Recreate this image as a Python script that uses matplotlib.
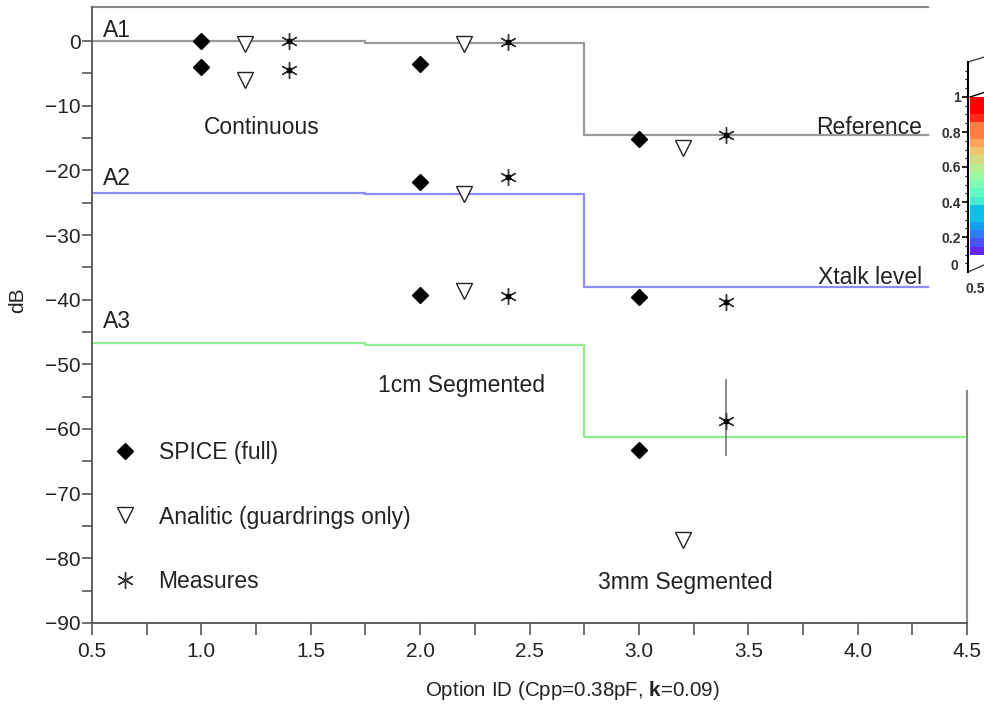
import numpy as np
import matplotlib.pyplot as plt
from matplotlib.colors import ListedColormap

plt.rcParams['font.family'] = ['Liberation Sans', 'DejaVu Sans']
plt.rcParams['mathtext.fontset'] = 'custom'
plt.rcParams['mathtext.rm'] = 'Liberation Sans'
plt.rcParams['mathtext.bf'] = 'Liberation Sans:bold'

# step levels (dB) for the three aggressor configurations
step_edges = [0.5, 1.75, 2.75, 4.32]
a1_levels = [0.0, -0.3, -14.5]
a2_levels = [-23.5, -23.7, -38.0]
a3_levels = [-46.7, -47.0, -61.2]
a3_end = 4.5

spice_x = [1.0, 1.0, 2.0, 2.0, 2.0, 3.0, 3.0, 3.0]
spice_y = [0.0, -4.0, -3.5, -21.8, -39.3, -15.1, -39.6, -63.3]

analitic_x = [1.2, 1.2, 2.2, 2.2, 2.2, 3.2, 3.2]
analitic_y = [-0.4, -6.1, -0.4, -23.6, -38.6, -16.6, -77.2]

meas_x = [1.4, 1.4, 2.4, 2.4, 2.4, 3.4, 3.4, 3.4]
meas_y = [0.0, -4.5, -0.2, -21.1, -39.4, -14.6, -40.3, -58.8]
meas_err_lo = [0, 0, 0, 0, 0, 0, 0, 5.3]
meas_err_hi = [0, 0, 0, 0, 0, 0, 0, 6.6]

cbar_ticks = [0.2, 0.4, 0.6, 0.8, 1.0]
cbar_labels = ['0.2', '0.4', '0.6', '0.8', '1']

fig = plt.figure(figsize=(9.84, 7.15), dpi=100)
ax = fig.add_axes([0.0935, 0.1287, 0.8893, 0.8615])

def step_line(levels, end, color):
    xs = step_edges[:-1] + [end]
    ys = levels + [levels[-1]]
    ax.step(xs, ys, where='post', color=color, lw=1.6, zorder=2)

step_line(a1_levels, step_edges[-1], '#999999')
step_line(a2_levels, step_edges[-1], '#8c8cff')
step_line(a3_levels, a3_end, '#90f090')

ax.plot(spice_x, spice_y, 'D', ms=8, color='black', ls='none',
        label='SPICE (full)', zorder=4)
ax.plot(analitic_x, analitic_y, 'v', ms=12, mfc='white', mec='#222222',
        mew=1.0, ls='none', label='Analitic (guardrings only)', zorder=4)
ax.errorbar(meas_x, meas_y, yerr=[meas_err_lo, meas_err_hi], fmt='none',
            ecolor='#777777', elinewidth=1.2, capsize=0, zorder=3)
ax.plot(meas_x, meas_y, marker=(6, 2, 0), ms=12, color='#333333', mew=1.0,
        ls='none', label='Measures', zorder=4)
ax.plot(meas_x, meas_y, 's', ms=2.5, color='black', ls='none', zorder=5)

# annotations
txt = dict(fontsize=16.5, color='#222222', va='center')
ax.text(0.55, 1.6, 'A1', ha='left', **txt)
ax.text(0.55, -21.2, 'A2', ha='left', **txt)
ax.text(0.55, -43.3, 'A3', ha='left', **txt)
ax.text(1.277, -13.3, 'Continuous', ha='center', **txt)
ax.text(4.294, -13.3, 'Reference', ha='right', **txt)
ax.text(4.294, -36.5, 'Xtalk level', ha='right', **txt)
ax.text(2.19, -53.2, '1cm Segmented', ha='center', **txt)
ax.text(3.21, -83.8, '3mm Segmented', ha='center', **txt)

ax.set_xlim(0.5, 4.5)
ax.set_ylim(-90, 5.26)
ax.set_xticks(np.arange(0.5, 4.51, 0.5))
ax.set_xticks(np.arange(0.75, 4.5, 0.5), minor=True)
ax.set_xticklabels([f'{v:.1f}' for v in np.arange(0.5, 4.51, 0.5)])
ax.set_yticks(np.arange(-90, 1, 10))
ax.set_yticks(np.arange(-85, 1, 10), minor=True)
ax.tick_params(axis='both', which='both', colors='#555555', labelcolor='#222222',
               labelsize=15, width=1.2)
ax.tick_params(axis='x', which='both', length=8.5, pad=5)
ax.tick_params(axis='y', which='both', length=7, pad=1)

for s in ['left', 'bottom']:
    ax.spines[s].set_color('#555555')
    ax.spines[s].set_linewidth(1.3)
ax.spines['top'].set_visible(False)
ax.spines['right'].set_color('#888888')
ax.spines['right'].set_linewidth(1.5)
ax.spines['right'].set_bounds(-90, -54.2)
ax.plot([0.5, step_edges[-1]], [5.26, 5.26], color='#888888', lw=1.5,
        clip_on=False, zorder=1)

leg = ax.legend(loc='upper left', bbox_to_anchor=(0.025, 0.295), frameon=False,
                fontsize=16.5, numpoints=1, handlelength=1.0, handletextpad=0.95,
                labelspacing=1.8, borderpad=0, borderaxespad=0)
for t in leg.get_texts():
    t.set_color('#222222')

fig.text(18 / 984, 1 - 300 / 715, 'dB', rotation=90, fontsize=15,
         color='#222222', ha='center', va='center')
fig.text(572 / 984, 1 - 690 / 715, r'Option ID (Cpp=0.38pF, $\mathbf{k}$=0.09)',
         fontsize=14.8, color='#222222', ha='center', va='center')

# fragment of an overlapping 3-D colour bar on the right edge
cax = fig.add_axes([968 / 984, 1 - 272 / 715, 40 / 984, 210 / 715])
levels = np.linspace(0.1, 1.0, 19)
band_cmap = ListedColormap(plt.get_cmap('rainbow')(np.linspace(0.05, 1, 18)))
cax.imshow(levels[:, None], extent=[0.05, 1, 0.1, 1.0], origin='lower',
           aspect='auto', cmap=band_cmap, interpolation='nearest')
cax.plot([0.05, 1], [1.0, 1.07], color='black', lw=1)
cax.plot([0.0, 1], [1.2, 1.27], color='#444444', lw=1, clip_on=False)
cax.plot([0.0, 0.6], [0.0, 0.06], color='#444444', lw=1)
cax.set_xlim(0, 1)
cax.set_ylim(0, 1.2)
cax.set_xticks([])
cax.set_yticks(cbar_ticks)
cax.set_yticklabels(cbar_labels)
cax.set_yticks(np.arange(0.05, 1.2, 0.05), minor=True)
cax.tick_params(axis='y', which='major', labelsize=10, length=4, pad=1, width=1.2)
cax.tick_params(axis='y', which='minor', length=2.5, width=0.8)
for t in cax.get_yticklabels():
    t.set_fontweight('bold')
    t.set_color('#333333')
cax.spines['left'].set_linewidth(1.5)
for s in ['top', 'right', 'bottom']:
    cax.spines[s].set_visible(False)
fig.text(958 / 984, 1 - 266 / 715, '0', fontsize=10, fontweight='bold',
         color='#333333', ha='right', va='center')
fig.text(966 / 984, 1 - 289 / 715, '0.5', fontsize=10, fontweight='bold',
         color='#333333', ha='left', va='center')

fig.savefig('out.png', dpi=100)
